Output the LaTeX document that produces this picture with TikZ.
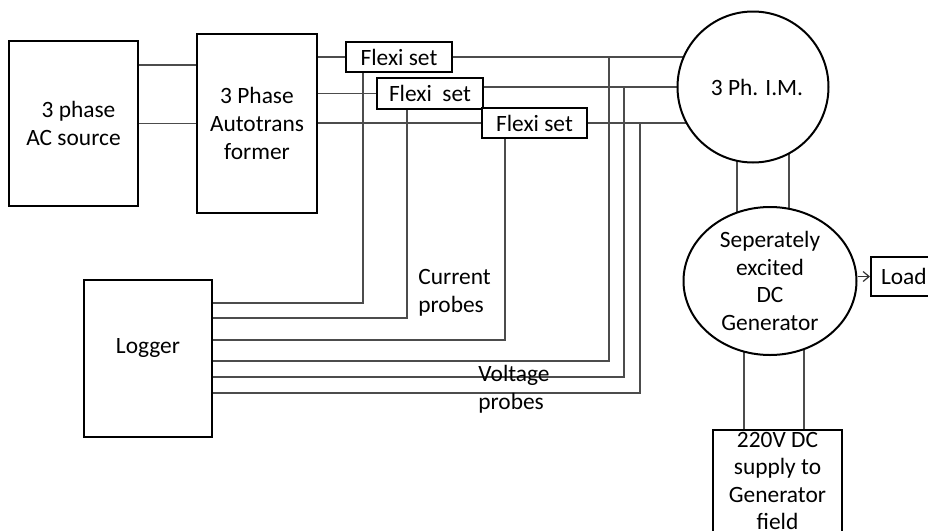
\documentclass[tikz,border=0pt]{standalone}
\usepackage{fontspec}
\setmainfont{Carlito}
\usetikzlibrary{shapes.geometric, arrows.meta, positioning, backgrounds}

\begin{document}
\begin{tikzpicture}[
  x=0.5pt, y=-0.5pt,
  every node/.style={font=\fontsize{11.7}{13.8}\selectfont},
  box/.style={draw=black, fill=white, line width=1pt, align=center},
  flexbox/.style={box, minimum width=53pt, minimum height=15pt, inner sep=1pt},
  machine/.style={draw=black, fill=white, line width=1pt, align=center, inner sep=0pt},
  wire/.style={draw=black!70, line width=0.75pt},
  arrow/.style={-{Straight Barb[length=3pt, width=5pt]}, black!80, line width=0.6pt}
]
\useasboundingbox (0,0) rectangle (928,531);

\node[box, minimum width=64.5pt, minimum height=82.5pt] (src) at (73.5,123.5) {\hspace*{5pt}3 phase\\AC source};
\node[box, minimum width=60pt, minimum height=89.5pt] (auto) at (257,123.5) {3 Phase\\Autotrans\\former};
\node[flexbox] (flex1) at (399,57) {Flexi set};
\node[flexbox, minimum height=15.5pt] (flex2) at (430,93.5) {Flexi\ \ set};
\node[flexbox, minimum width=52.5pt] (flex3) at (534.5,123) {Flexi set};
\node[machine, circle, minimum size=75.5pt] (im) at (753,87) {\hspace*{4pt}3 Ph. I.M.};
\node[machine, ellipse, minimum width=86.5pt, minimum height=74pt] (gen) at (770,281) {Seperately\\excited\\DC\\Generator};
\node[box, anchor=west, text width=40pt, align=left, minimum height=19.5pt, inner sep=1pt, inner xsep=5pt] (load) at (870,276.5) {Load};
\node[box, anchor=north, minimum width=64.5pt, inner sep=1pt] (supply) at (777.5,429) {220V DC\\supply to\\Generator\\field};
\node[box, minimum width=64pt, minimum height=78.5pt] (logger) at (148,358.5) {\raisebox{12.5pt}{Logger}};

\node[anchor=west, align=left, inner sep=0pt] (cprobes) at (418,292.5) {Current\\probes};
\node[anchor=west, align=left, inner sep=0pt] (vprobes) at (478,389) {Voltage\\probes};

\coordinate (c1) at (363,303);
\coordinate (c2) at (407,318);
\coordinate (c3) at (505,340);
\coordinate (v1) at (609,361);
\coordinate (v2) at (624,377);
\coordinate (v3) at (640,393);

\begin{scope}[on background layer]
\draw[wire] ([yshift=29.25pt]src.east) -- ([yshift=29.25pt]src.east -| auto.west);
\draw[wire] (src.east) -- (auto.west);
\draw[wire] (auto.east |- flex1.west) -- (flex1.west);
\draw[wire] (auto.east |- flex2.west) -- (flex2.west);
\draw[wire] (auto.east |- flex3.west) -- (flex3.west);
\draw[wire] (flex1.east) -- (flex1.east -| im.center);
\draw[wire] ([yshift=3.25pt]flex2.east) -- ([yshift=3.25pt]flex2.east -| im.center);
\draw[wire] (flex3.east) -- (flex3.east -| im.center);
\draw[wire] (flex1.south -| c1) -- (c1) -- (logger.east |- c1);
\draw[wire] (flex2.south -| c2) -- (c2) -- (logger.east |- c2);
\draw[wire] (flex3.south -| c3) -- (c3) -- (logger.east |- c3);
\draw[wire] (v1 |- flex1.east) -- (v1) -- (logger.east |- v1);
\draw[wire] (v2 |- im.west) -- (v2) -- (logger.east |- v2);
\draw[wire] (v3 |- flex3.east) -- (v3) -- (logger.east |- v3);
\draw[wire] ([xshift=-8pt]im.center) -- ([xshift=-8pt]im.center |- gen.center);
\draw[wire] ([xshift=18pt]im.center) -- ([xshift=18pt]im.center |- gen.center);
\draw[wire] ([xshift=-13pt]gen.center) -- ([xshift=-13pt]gen.center |- supply.center);
\draw[wire] ([xshift=17pt]gen.center) -- ([xshift=17pt]gen.center |- supply.center);
\end{scope}

\draw[arrow] (gen.east |- load.west) -- (load.west);
\end{tikzpicture}
\end{document}
